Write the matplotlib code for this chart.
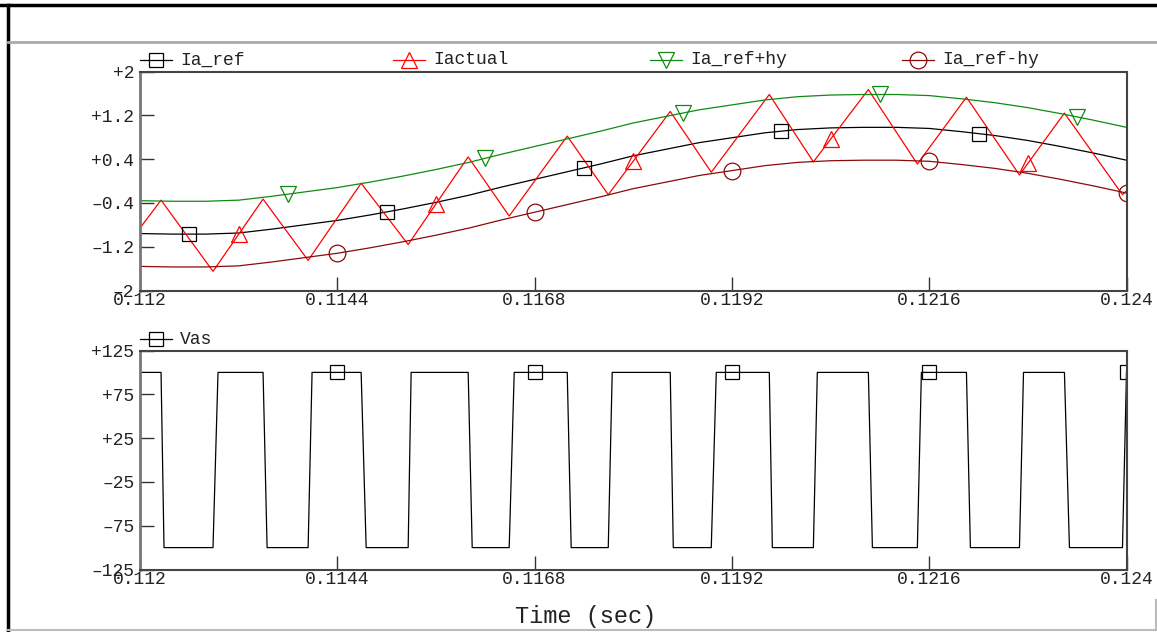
import numpy as np
import matplotlib
matplotlib.use("Agg")
import matplotlib.pyplot as plt
from matplotlib.lines import Line2D

# reference current, read every 0.4 ms
t_ref = np.round(0.112 + 0.0004 * np.arange(31), 5)
ia_ref = [-0.96, -0.97, -0.97, -0.95, -0.88, -0.80, -0.72, -0.62, -0.51, -0.39,
          -0.26, -0.11, 0.03, 0.17, 0.31, 0.46, 0.58, 0.70, 0.79, 0.88,
          0.94, 0.97, 0.98, 0.98, 0.96, 0.90, 0.83, 0.74, 0.63, 0.51, 0.38]
hy = 0.6  # hysteresis band

# actual current: corners of the triangle wave
t_act = [0.112, 0.112256, 0.112888, 0.113497, 0.114045, 0.114690, 0.115262,
         0.115992, 0.116491, 0.117197, 0.117696, 0.118450, 0.118949, 0.119655,
         0.120191, 0.120860, 0.121456, 0.122053, 0.122698, 0.123245, 0.123951, 0.124]
i_act = [-0.86, -0.35, -1.65, -0.33, -1.45, -0.04, -1.16, 0.44, -0.64, 0.82, -0.25,
         1.27, 0.16, 1.58, 0.35, 1.67, 0.31, 1.53, 0.11, 1.24, -0.25, -0.18]

# phase voltage
vas_t = [0.112, 0.112256, 0.112292, 0.112888, 0.112949, 0.113497, 0.113546,
         0.114045, 0.114093, 0.114690, 0.114751, 0.115262, 0.115298, 0.115992,
         0.116041, 0.116491, 0.116552, 0.117197, 0.117245, 0.117696, 0.117744,
         0.118450, 0.118487, 0.118949, 0.119010, 0.119655, 0.119692, 0.120191,
         0.120239, 0.120860, 0.120909, 0.121456, 0.121505, 0.122053, 0.122101,
         0.122698, 0.122747, 0.123245, 0.123306, 0.123951, 0.124]
vas_v = [100, 100, -100, -100, 100, 100, -100, -100, 100, 100, -100,
         -100, 100, 100, -100, -100, 100, 100, -100, -100, 100,
         100, -100, -100, 100, 100, -100, -100, 100, 100, -100,
         -100, 100, 100, -100, -100, 100, 100, -100, -100, 100]

# marker times
mk_ref = [0.1126, 0.1150, 0.1174, 0.1198, 0.1222]
mk_act = [0.1132, 0.1156, 0.1180, 0.1204, 0.1228]
mk_hi = [0.1138, 0.1162, 0.1186, 0.1210, 0.1234]
mk_lo = [0.1144, 0.1168, 0.1192, 0.1216, 0.1240]
mk_vas = [0.1144, 0.1168, 0.1192, 0.1216, 0.1240]

x_ticks = [0.112, 0.1144, 0.1168, 0.1192, 0.1216, 0.124]
x_labels = ["0.112", "0.1144", "0.1168", "0.1192", "0.1216", "0.124"]
y1_ticks = [-2, -1.2, -0.4, 0.4, 1.2, 2]
y1_labels = ["\u20132", "\u20131.2", "\u20130.4", "+0.4", "+1.2", "+2"]
y2_ticks = [-125, -75, -25, 25, 75, 125]
y2_labels = ["\u2013125", "\u201375", "\u201325", "+25", "+75", "+125"]

plt.rcParams['font.family'] = ['Liberation Mono', 'DejaVu Sans']

W, H = 1157, 632
fig = plt.figure(figsize=(W / 100, H / 100), dpi=100)


def fx(x):
    return x / W


def fy(y):
    return 1 - y / H


GREEN = '#108a10'
DRED = '#8b0a0a'

ia_ref = np.array(ia_ref)
hi = ia_ref + hy
lo = ia_ref - hy

ax1 = fig.add_axes([fx(140), fy(290.5), fx(1126.5) - fx(140), fy(71.5) - fy(290.5)])
ax2 = fig.add_axes([fx(140), fy(569.5), fx(1126.5) - fx(140), fy(350.5) - fy(569.5)])

ax1.plot(t_ref, ia_ref, color='black', lw=0.9)
ax1.plot(t_act, i_act, color='red', lw=0.9)
ax1.plot(t_ref, hi, color=GREEN, lw=0.9)
ax1.plot(t_ref, lo, color=DRED, lw=0.9)
ax1.plot(mk_ref, np.interp(mk_ref, t_ref, ia_ref), ls='none', marker='s', ms=10.5,
         mfc='none', mec='black', mew=0.9)
ax1.plot(mk_act, np.interp(mk_act, t_act, i_act), ls='none', marker='^', ms=11,
         mfc='none', mec='red', mew=0.9)
ax1.plot(mk_hi, np.interp(mk_hi, t_ref, hi), ls='none', marker='v', ms=11,
         mfc='none', mec=GREEN, mew=0.9)
ax1.plot(mk_lo, np.interp(mk_lo, t_ref, lo), ls='none', marker='o', ms=12,
         mfc='none', mec=DRED, mew=0.9)

ax2.plot(vas_t, vas_v, color='black', lw=0.9)
ax2.plot(mk_vas, np.interp(mk_vas, vas_t, vas_v), ls='none', marker='s', ms=10.5,
         mfc='none', mec='black', mew=0.9)

for ax, yt, yl, lim in [(ax1, y1_ticks, y1_labels, (-2, 2)),
                        (ax2, y2_ticks, y2_labels, (-125, 125))]:
    ax.set_xlim(0.112, 0.124)
    ax.set_ylim(*lim)
    ax.set_xticks(x_ticks)
    ax.set_xticklabels(x_labels)
    ax.set_yticks(yt)
    ax.set_yticklabels(yl)
    ax.tick_params(direction='in', length=10, width=1, color='#333333',
                   labelsize=13, labelcolor='#222222')
    ax.tick_params(axis='x', pad=1)
    ax.tick_params(axis='y', pad=4)
    for s in ax.spines.values():
        s.set_color('#444444')
        s.set_linewidth(1.5)
    ax.spines['left'].set_color('#777777')
    ax.spines['left'].set_linewidth(2)

fig.text(fx(586), fy(617), "Time (sec)", ha='center', va='center', fontsize=17,
         color='#222222')

# legend keys drawn above each panel
legend_items = [
    (140, 60, 'black', 's', 10.5, 'Ia_ref'),
    (393, 60, 'red', '^', 11, 'Iactual'),
    (650, 60, 'green', 'v', 11, 'Ia_ref+hy'),
    (902, 60, DRED, 'o', 12, 'Ia_ref-hy'),
    (140, 339, 'black', 's', 10.5, 'Vas'),
]
for x0, y0, c, m, ms, lab in legend_items:
    if c == 'green':
        c = GREEN
    fig.add_artist(Line2D([fx(x0), fx(x0 + 32)], [fy(y0), fy(y0)], color=c, lw=0.9,
                          transform=fig.transFigure))
    fig.add_artist(Line2D([fx(x0 + 16)], [fy(y0)], color=c, marker=m, ms=ms, mfc='none',
                          mec=c, mew=0.9, transform=fig.transFigure))
    fig.text(fx(x0 + 40), fy(y0), lab, ha='left', va='center', fontsize=13, color='#222222')

# window frame
fig.add_artist(Line2D([0, 1], [fy(5), fy(5)], color='black', lw=2.5, transform=fig.transFigure))
fig.add_artist(Line2D([fx(8), fx(8)], [fy(5), 0], color='black', lw=2.5, transform=fig.transFigure))
fig.add_artist(Line2D([fx(8), 1], [fy(42), fy(42)], color='#aaaaaa', lw=2, transform=fig.transFigure))
fig.add_artist(Line2D([fx(8), fx(1156)], [fy(630), fy(630)], color='#bbbbbb', lw=1.5,
                      transform=fig.transFigure))
fig.add_artist(Line2D([fx(1155.5), fx(1155.5)], [fy(600), fy(630)], color='#bbbbbb', lw=1.5,
                      transform=fig.transFigure))

fig.savefig('out.png', dpi=100)
